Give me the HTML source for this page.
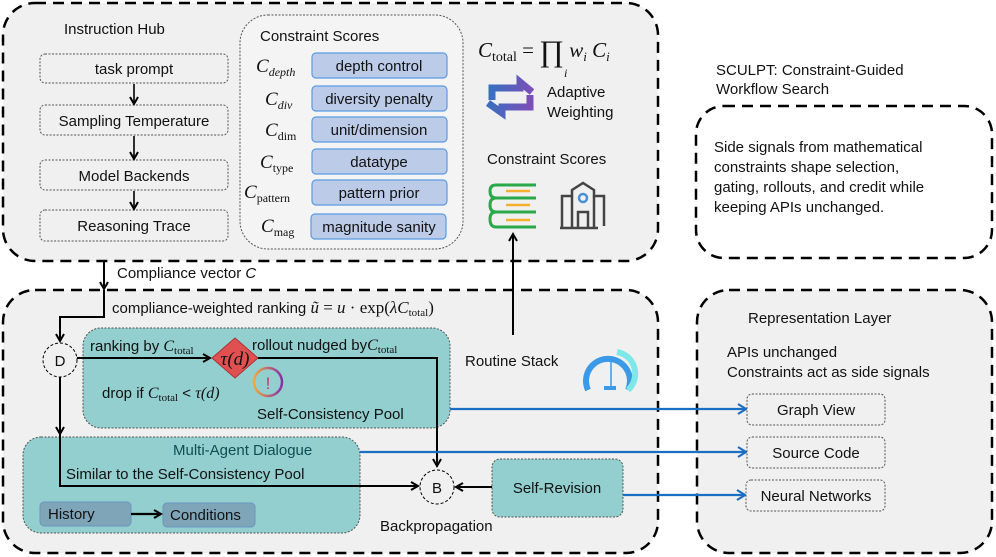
<!DOCTYPE html>
<html><head><meta charset="utf-8"><style>
html,body{margin:0;padding:0;background:#fff}
svg{display:block}
text{font-family:"Liberation Sans",sans-serif;font-size:15px;fill:#111}
.m{font-family:"Liberation Serif",serif;font-style:italic}
.r{font-family:"Liberation Serif",serif}
</style></head><body>
<svg width="996" height="557" viewBox="0 0 996 557" xmlns="http://www.w3.org/2000/svg">
<defs>
<marker id="a" markerWidth="10" markerHeight="10" refX="8" refY="5" orient="auto" markerUnits="userSpaceOnUse"><path d="M1,1 L8,5 L1,9" fill="none" stroke="#000" stroke-width="2"/></marker>
<marker id="b" markerWidth="12" markerHeight="12" refX="9" refY="6" orient="auto" markerUnits="userSpaceOnUse"><path d="M1,1 L9,6 L1,11" fill="none" stroke="#1a6fc4" stroke-width="2.2"/></marker>
<linearGradient id="g1" x1="0" x2="1"><stop offset="0" stop-color="#3a6fc0"/><stop offset="1" stop-color="#7b4fb8"/></linearGradient>
<linearGradient id="g2" x1="0" x2="1"><stop offset="0" stop-color="#f2a73b"/><stop offset="1" stop-color="#8a2fa8"/></linearGradient>
</defs>
<rect x="3" y="3" width="655" height="258" rx="32" fill="#f0f0f0" stroke="#000" stroke-width="2.5" stroke-dasharray="11,7"/>
<rect x="3" y="290" width="655" height="263" rx="32" fill="#f0f0f0" stroke="#000" stroke-width="2.5" stroke-dasharray="11,7"/>
<rect x="696" y="106" width="296" height="152" rx="28" fill="#fff" stroke="#000" stroke-width="2.5" stroke-dasharray="11,7"/>
<rect x="697" y="290" width="295" height="263" rx="32" fill="#f0f0f0" stroke="#000" stroke-width="2.5" stroke-dasharray="11,7"/>

<text x="64" y="34">Instruction Hub</text>
<g fill="#f0f0f0" stroke="#555" stroke-width="1" stroke-dasharray="2,1.5">
<rect x="40" y="54" width="188" height="29" rx="5"/>
<rect x="40" y="105" width="188" height="30" rx="5"/>
<rect x="40" y="160" width="188" height="30" rx="5"/>
<rect x="40" y="210" width="188" height="31" rx="5"/>
</g>
<text x="134" y="74" text-anchor="middle">task prompt</text>
<text x="134" y="126" text-anchor="middle">Sampling Temperature</text>
<text x="134" y="181" text-anchor="middle">Model Backends</text>
<text x="134" y="231" text-anchor="middle">Reasoning Trace</text>
<g stroke="#000" stroke-width="1.6" marker-end="url(#a)">
<line x1="134" y1="84" x2="134" y2="104"/>
<line x1="134" y1="136" x2="134" y2="159"/>
<line x1="134" y1="191" x2="134" y2="209"/>
</g>

<rect x="240" y="15" width="223" height="234" rx="28" fill="#f4f4f4" stroke="#555" stroke-width="1" stroke-dasharray="2,1.5"/>
<text x="260" y="41">Constraint Scores</text>
<g fill="#bccbe8" stroke="#5b9be0" stroke-width="1.2">
<rect x="312" y="53" width="135" height="25" rx="4"/>
<rect x="312" y="86" width="135" height="25" rx="4"/>
<rect x="312" y="117" width="135" height="25" rx="4"/>
<rect x="312" y="149" width="135" height="25" rx="4"/>
<rect x="312" y="180" width="135" height="25" rx="4"/>
<rect x="311" y="214" width="135" height="25" rx="4"/>
</g>
<text x="379" y="71" text-anchor="middle">depth control</text>
<text x="379" y="104" text-anchor="middle">diversity penalty</text>
<text x="379" y="135" text-anchor="middle">unit/dimension</text>
<text x="379" y="167" text-anchor="middle">datatype</text>
<text x="379" y="198" text-anchor="middle">pattern prior</text>
<text x="379" y="232" text-anchor="middle">magnitude sanity</text>
<text x="256" y="72" class="m" style="font-size:19px">C<tspan class="m" style="font-size:12px" dy="4">depth</tspan></text>
<text x="265" y="105" class="m" style="font-size:19px">C<tspan class="m" style="font-size:12px" dy="4">div</tspan></text>
<text x="265" y="136" class="m" style="font-size:19px">C<tspan class="r" style="font-size:12px;font-style:normal" dy="4">dim</tspan></text>
<text x="260" y="168" class="m" style="font-size:19px">C<tspan class="r" style="font-size:12px;font-style:normal" dy="4">type</tspan></text>
<text x="244" y="198" class="m" style="font-size:19px">C<tspan class="r" style="font-size:12px;font-style:normal" dy="4">pattern</tspan></text>
<text x="261" y="232" class="m" style="font-size:19px">C<tspan class="r" style="font-size:12px;font-style:normal" dy="4">mag</tspan></text>

<text x="478" y="57" class="m" style="font-size:21px">C<tspan class="r" style="font-size:14px;font-style:normal" dy="4">total</tspan><tspan class="r" style="font-style:normal" dy="-4"> = </tspan><tspan class="r" style="font-style:normal;font-size:30px" dy="4">∏</tspan><tspan dy="-4"> w</tspan><tspan style="font-size:13px" dy="4">i</tspan><tspan dy="-4"> C</tspan><tspan style="font-size:13px" dy="4">i</tspan></text>
<text x="564" y="77" class="m" style="font-size:12px">i</text>
<path d="M492,100 L492,88 L520,88 L520,82 L532,92" fill="none" stroke="url(#g1)" stroke-width="7"/>
<path d="M530,95 L530,107 L502,107 L502,113 L488,103" fill="none" stroke="url(#g1)" stroke-width="7"/>
<text x="547" y="97">Adaptive</text>
<text x="547" y="117">Weighting</text>
<text x="487" y="164">Constraint Scores</text>
<g fill="none" stroke="#2aa84a" stroke-width="3">
<path d="M536,185 L496,185 Q490,185 490,191 Q490,198 496,198 L536,198"/>
<path d="M536,198 L496,198 Q490,198 490,205 Q490,212 496,212 L536,212"/>
<path d="M536,212 L496,212 Q490,212 490,219 Q490,227 496,227 L536,227"/>
</g>
<g stroke="#f5b02e" stroke-width="2.5"><line x1="506" y1="191" x2="530" y2="191"/><line x1="506" y1="205" x2="530" y2="205"/><line x1="506" y1="220" x2="530" y2="220"/></g>
<g fill="none" stroke="#444" stroke-width="2.5">
<path d="M562,228 L562,196 L572,196 L572,190 L583,183 L594,190 L594,196 L604,196 L604,226"/>
<path d="M572,228 L572,196 M594,228 L594,196 M578,228 L578,212 L588,212 L588,228"/>
<line x1="560" y1="228" x2="598" y2="228"/>
</g>
<circle cx="583" cy="198" r="4" fill="none" stroke="#4a90d8" stroke-width="2.5"/>

<line x1="513" y1="335" x2="513" y2="234" stroke="#000" stroke-width="2" marker-end="url(#a)"/>
<text x="465" y="366">Routine Stack</text>
<path d="M588,390 A22,22 0 1 1 628,390" fill="none" stroke="#3b9ae8" stroke-width="6"/>
<path d="M617,352 A22,22 0 0 1 628,390" fill="none" stroke="#7ee8e8" stroke-width="6"/>
<line x1="611" y1="358" x2="611" y2="386" stroke="#3b9ae8" stroke-width="1.5"/>
<rect x="604" y="386" width="12" height="4" fill="#3b9ae8"/>

<line x1="104" y1="262" x2="104" y2="289" stroke="#000" stroke-width="2" marker-end="url(#a)"/>
<text x="117" y="278">Compliance vector <tspan font-style="italic">C</tspan></text>
<text x="112" y="313">compliance-weighted ranking <tspan class="m" style="font-size:17px">ũ</tspan><tspan class="r" style="font-size:17px"> = </tspan><tspan class="m" style="font-size:17px">u</tspan><tspan class="r" style="font-size:17px"> · exp(</tspan><tspan class="m" style="font-size:17px">λC</tspan><tspan class="r" style="font-size:11px" dy="3">total</tspan><tspan class="r" style="font-size:17px" dy="-3">)</tspan></text>
<polyline points="104,290 104,317 60,317 60,341" fill="none" stroke="#000" stroke-width="2" marker-end="url(#a)"/>

<rect x="83" y="328" width="367" height="100" rx="18" fill="#93cfcf" stroke="#555" stroke-width="1" stroke-dasharray="2,1.5"/>
<rect x="23" y="437" width="337" height="96" rx="18" fill="#93cfcf" stroke="#555" stroke-width="1" stroke-dasharray="2,1.5"/>
<rect x="40" y="502" width="91" height="24" rx="4" fill="#7fa5b8" stroke="#6b96c0"/>
<rect x="163" y="503" width="92" height="24" rx="4" fill="#7fa5b8" stroke="#6b96c0"/>
<text x="48" y="519">History</text>
<text x="170" y="520">Conditions</text>
<line x1="131" y1="514" x2="161" y2="514" stroke="#000" stroke-width="2.2" marker-end="url(#a)"/>
<text x="173" y="455" style="fill:#0e4f52">Multi-Agent Dialogue</text>
<text x="66" y="479">Similar to the Self-Consistency Pool</text>

<circle cx="60" cy="360" r="17" fill="#f0f0f0" stroke="#000" stroke-width="1" stroke-dasharray="3,2"/>
<text x="60" y="366" text-anchor="middle">D</text>
<line x1="77" y1="358" x2="210" y2="358" stroke="#000" stroke-width="2" marker-end="url(#a)"/>
<polyline points="60,377 60,434" fill="none" stroke="#000" stroke-width="2" marker-end="url(#a)"/>
<polyline points="60,434 60,486 418,486" fill="none" stroke="#000" stroke-width="2" marker-end="url(#a)"/>
<polygon points="235,338 258,358 235,378 212,358" fill="#e05050" stroke="#a33" stroke-width="1"/>
<text x="235" y="365" text-anchor="middle" class="m" style="font-size:19px">τ(d)</text>
<polyline points="258,358 437,358 437,466" fill="none" stroke="#000" stroke-width="2" marker-end="url(#a)"/>
<text x="90" y="351">ranking by <tspan class="m" style="font-size:16px">C</tspan><tspan class="r" style="font-size:11px" dy="3">total</tspan></text>
<text x="252" y="350">rollout nudged by<tspan class="m" style="font-size:16px">C</tspan><tspan class="r" style="font-size:11px" dy="3">total</tspan></text>
<text x="102" y="398">drop if <tspan class="m" style="font-size:16px">C</tspan><tspan class="r" style="font-size:11px" dy="3">total</tspan><tspan dy="-3"> &lt; </tspan><tspan class="m" style="font-size:16px">τ(d)</tspan></text>
<circle cx="268" cy="382" r="14" fill="none" stroke="url(#g2)" stroke-width="2.5"/>
<text x="268" y="389" text-anchor="middle" style="fill:#d0306a;font-size:17px">!</text>
<text x="257" y="419">Self-Consistency Pool</text>

<circle cx="437" cy="487" r="17" fill="#f0f0f0" stroke="#000" stroke-width="1" stroke-dasharray="3,2"/>
<text x="437" y="493" text-anchor="middle">B</text>
<rect x="492" y="459" width="131" height="58" rx="8" fill="#93cfcf" stroke="#555" stroke-width="1" stroke-dasharray="2,1.5"/>
<text x="557" y="493" text-anchor="middle">Self-Revision</text>
<line x1="492" y1="487" x2="456" y2="487" stroke="#000" stroke-width="2" marker-end="url(#a)"/>
<text x="380" y="531">Backpropagation</text>

<g stroke="#1a6fc4" stroke-width="2.2" marker-end="url(#b)">
<line x1="450" y1="409" x2="746" y2="409"/>
<line x1="360" y1="452" x2="746" y2="452"/>
<line x1="623" y1="495" x2="745" y2="495"/>
</g>

<text x="748" y="323">Representation Layer</text>
<text x="727" y="357">APIs unchanged</text>
<text x="727" y="377">Constraints act as side signals</text>
<g fill="#f0f0f0" stroke="#555" stroke-width="1" stroke-dasharray="2,1.5">
<rect x="747" y="394" width="138" height="31" rx="5"/>
<rect x="747" y="437" width="138" height="31" rx="5"/>
<rect x="746" y="480" width="139" height="31" rx="5"/>
</g>
<text x="816" y="415" text-anchor="middle">Graph View</text>
<text x="816" y="458" text-anchor="middle">Source Code</text>
<text x="816" y="501" text-anchor="middle">Neural Networks</text>

<text x="716" y="75">SCULPT: Constraint-Guided</text>
<text x="716" y="94">Workflow Search</text>
<text x="714" y="152">Side signals from mathematical</text>
<text x="714" y="172">constraints shape selection,</text>
<text x="714" y="192">gating, rollouts, and credit while</text>
<text x="714" y="212">keeping APIs unchanged.</text>
</svg>
</body></html>
